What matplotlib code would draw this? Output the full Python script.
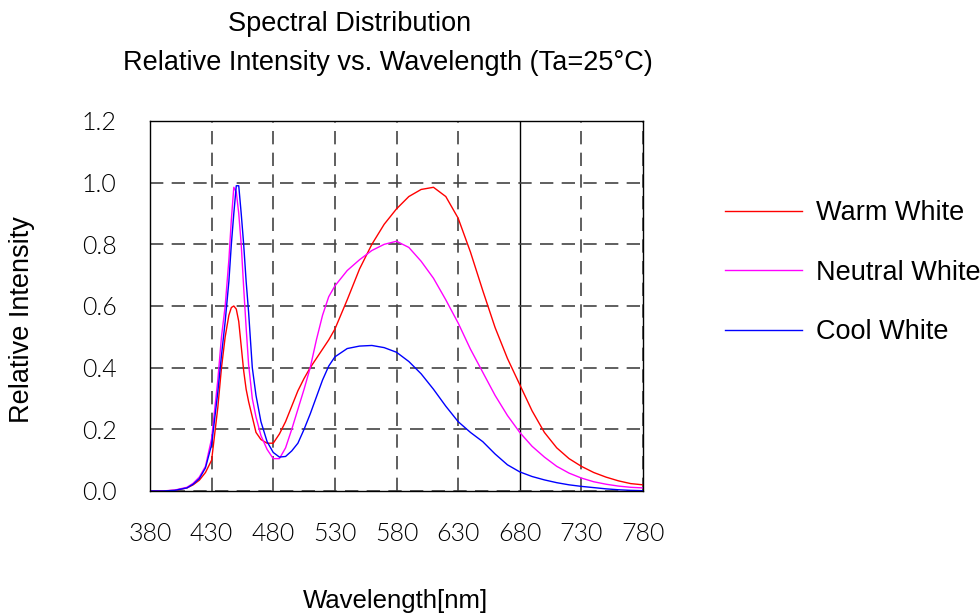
import numpy as np
import matplotlib.pyplot as plt

### Spectrum data
wavelength = [380, 390, 400, 410, 415, 420, 425, 430, 435, 438, 441, 444, 446, 448,
              450, 452, 454, 456, 458, 460, 463, 466, 470, 475, 480, 485, 490, 495,
              500, 505, 510, 515, 520, 525, 530, 540, 550, 560, 570, 580, 590, 600,
              610, 620, 630, 640, 650, 660, 670, 680, 690, 700, 710, 720, 730, 740,
              750, 760, 770, 780]

warm_white = [0.0, 0.0, 0.002, 0.01, 0.02, 0.035, 0.06, 0.10, 0.27, 0.40, 0.50, 0.57, 0.595, 0.60,
              0.59, 0.55, 0.47, 0.39, 0.33, 0.29, 0.24, 0.19, 0.167, 0.155, 0.155, 0.185, 0.225, 0.275,
              0.325, 0.365, 0.40, 0.43, 0.46, 0.49, 0.525, 0.62, 0.72, 0.80, 0.865, 0.915, 0.955, 0.978,
              0.985, 0.955, 0.885, 0.775, 0.65, 0.53, 0.43, 0.345, 0.26, 0.19, 0.14, 0.105, 0.08, 0.06,
              0.045, 0.033, 0.024, 0.02]

neutral_white = [0.0, 0.0, 0.003, 0.012, 0.025, 0.045, 0.08, 0.17, 0.36, 0.50, 0.60, 0.75, 0.88, 0.985,
                 0.97, 0.90, 0.80, 0.66, 0.53, 0.41, 0.30, 0.24, 0.18, 0.135, 0.105, 0.105, 0.14, 0.20,
                 0.265, 0.33, 0.40, 0.49, 0.57, 0.63, 0.665, 0.715, 0.75, 0.78, 0.80, 0.81, 0.79, 0.745,
                 0.69, 0.62, 0.545, 0.46, 0.385, 0.31, 0.245, 0.19, 0.145, 0.11, 0.08, 0.058, 0.042, 0.03,
                 0.022, 0.016, 0.012, 0.01]

cool_white = [0.0, 0.0, 0.002, 0.01, 0.022, 0.04, 0.075, 0.15, 0.32, 0.44, 0.55, 0.68, 0.80, 0.90,
              0.99, 0.99, 0.90, 0.80, 0.68, 0.58, 0.40, 0.31, 0.225, 0.16, 0.125, 0.11, 0.112, 0.13,
              0.155, 0.20, 0.25, 0.305, 0.36, 0.405, 0.435, 0.462, 0.47, 0.472, 0.465, 0.45, 0.42, 0.38,
              0.33, 0.275, 0.225, 0.19, 0.16, 0.12, 0.085, 0.062, 0.047, 0.036, 0.027, 0.02, 0.015, 0.011,
              0.007, 0.004, 0.002, 0.001]

x_ticks = [380, 430, 480, 530, 580, 630, 680, 730, 780]
y_ticks = [0.0, 0.2, 0.4, 0.6, 0.8, 1.0, 1.2]

#### Figure setup
plt.rcParams['font.family'] = ['Liberation Sans', 'DejaVu Sans']

fig = plt.figure(figsize=(9.8, 6.16), dpi=100)
ax = fig.add_axes([150/980, 1 - 491/616, 493/980, 370/616])

ax.plot(wavelength, warm_white, color='#ff0000', lw=1.0, label='Warm White')
ax.plot(wavelength, neutral_white, color='#ff00ff', lw=1.0, label='Neutral White')
ax.plot(wavelength, cool_white, color='#0000ff', lw=1.0, label='Cool White')

ax.set_xlim(380, 780)
ax.set_ylim(0, 1.2)
ax.set_xticks(x_ticks)
ax.set_yticks(y_ticks)
ax.set_yticklabels(['%.1f' % v for v in y_ticks])

for lbl in ax.get_xticklabels() + ax.get_yticklabels():
    lbl.set_family(['Lato', 'DejaVu Sans'])
    lbl.set_fontweight(300)
    lbl.set_fontsize(18)
    lbl.set_color('black')
ax.tick_params(axis='both', length=0)
ax.tick_params(axis='y', pad=24)
ax.tick_params(axis='x', pad=22)

#### Grid: dashed, with the 680 nm line drawn solid
ax.grid(True, linestyle=(0, (8, 5)), color='#444444', lw=1.2)
for tick, line in zip(x_ticks, ax.get_xgridlines()):
    if tick == 680:
        line.set_linestyle('-')
        line.set_color('black')
        line.set_linewidth(1.0)

for sp in ax.spines.values():
    sp.set_color('black')
    sp.set_linewidth(1.0)

#### Titles and labels
fs = 19.5
fig.text(350/980, 1 - 24/616, 'Spectral Distribution', ha='center', va='center', fontsize=fs)
fig.text(388/980, 1 - 63/616, 'Relative Intensity vs. Wavelength (Ta=25°C)', ha='center', va='center', fontsize=fs)
fig.text(22/980, 1 - 320/616, 'Relative Intensity', rotation=90, ha='center', va='center', fontsize=fs)
fig.text(396/980, 1 - 601/616, 'Wavelength[nm]', ha='center', va='center', fontsize=18.5)

ax.legend(loc='upper left', bbox_to_anchor=(725/980, 1 - 200/616), bbox_transform=fig.transFigure,
          frameon=False, fontsize=fs, handlelength=2.85, handletextpad=0.5, labelspacing=1.24,
          borderpad=0, borderaxespad=0)

fig.savefig('out.png', dpi=100)
